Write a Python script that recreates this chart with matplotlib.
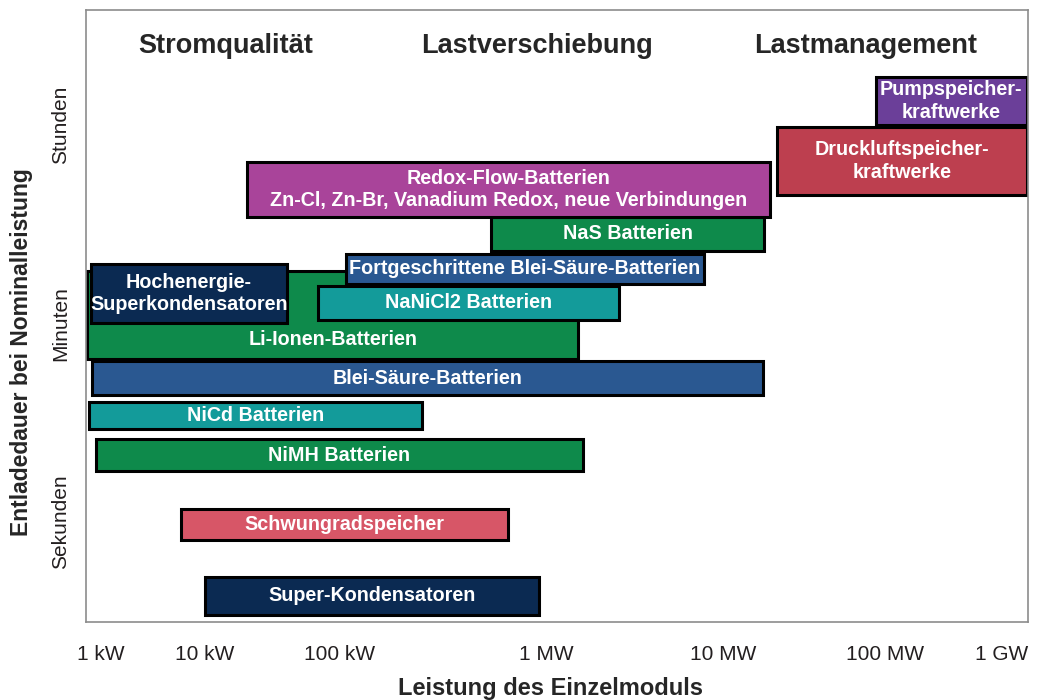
import numpy as np
import matplotlib
matplotlib.use('Agg')
import matplotlib.pyplot as plt

plt.rcParams['font.family'] = ['Liberation Sans', 'DejaVu Sans']

# ---------------- data ----------------
technologies = [
    'Li-Ionen-Batterien',
    'Hochenergie-\nSuperkondensatoren',
    'NaNiCl2 Batterien',
    'Fortgeschrittene Blei-Säure-Batterien',
    'NaS Batterien',
    'Redox-Flow-Batterien\nZn-Cl, Zn-Br, Vanadium Redox, neue Verbindungen',
    'Druckluftspeicher-\nkraftwerke',
    'Pumpspeicher-\nkraftwerke',
    'Blei-Säure-Batterien',
    'NiCd Batterien',
    'NiMH Batterien',
    'Schwungradspeicher',
    'Super-Kondensatoren',
]
power_min_kw = [0.75, 0.81, 68.7, 107, 541, 20.5, 21550, 87900, 0.83, 0.78, 0.905, 5.9, 10]
power_max_kw = [1516, 40.5, 2580, 7820, 17900, 19500, 1.62e6, 1.62e6, 17660, 250, 1620, 655, 925]
duration_min_s = [288, 605, 643, 1350, 2670, 5380, 8470, 35800, 137, 68, 28.6, 6.9, 1.47]
duration_max_s = [1770, 2040, 1300, 2510, 5380, 16700, 34400, 96400, 276, 119, 55, 13.1, 3.22]
bar_colors = ['#0E8A4B', '#0B2A52', '#139B9A', '#2A5891', '#0E8A4B', '#A9449A',
              '#BD3F4F', '#6B3F99', '#2A5891', '#139B9A', '#0E8A4B', '#D75667', '#0B2A52']

x_ticks_kw = [1, 10, 100, 1000, 1e4, 1e5, 1e6]
x_tick_labels = ['1 kW', '10 kW', '100 kW', '1 MW', '10 MW', '100 MW', '1 GW']
y_ticks_s = [10, 600, 36000]
y_tick_labels = ['Sekunden', 'Minuten', 'Stunden']
headers = ['Stromqualität', 'Lastverschiebung', 'Lastmanagement']

# ---------------- x scale (uneven decade widths as in the original) ----------------
dec_L = np.array([-1, 0, 1, 2, 3, 4, 5, 6, 7], dtype=float)
dec_P = np.array([-4, 100.5, 205, 340, 546, 723, 885, 1002, 1119], dtype=float)

def fwd(x):
    x = np.clip(np.asarray(x, dtype=float), 1e-12, None)
    L = np.log10(x)
    return np.interp(L, dec_L, dec_P) + \
        np.where(L < dec_L[0], (L - dec_L[0]) * 104.5, 0) + \
        np.where(L > dec_L[-1], (L - dec_L[-1]) * 117, 0)

def inv(p):
    p = np.asarray(p, dtype=float)
    L = np.interp(p, dec_P, dec_L) + \
        np.where(p < dec_P[0], (p - dec_P[0]) / 104.5, 0) + \
        np.where(p > dec_P[-1], (p - dec_P[-1]) / 117, 0)
    return 10 ** L

W, H = 1038, 700
fig = plt.figure(figsize=(W / 100, H / 100), dpi=100)
ax = fig.add_axes([86 / W, (H - 622) / H, (1028 - 86) / W, (622 - 10) / H])
ax.set_xscale('function', functions=(fwd, inv))
ax.set_yscale('log')
ax.set_xlim(0.7265, 1.668e6)
ax.set_ylim(1.27, 3.84e5)

idx_nanicl2 = technologies.index('NaNiCl2 Batterien')
for i, name in enumerate(technologies):
    x0, x1 = power_min_kw[i], power_max_kw[i]
    y0, y1 = duration_min_s[i], duration_max_s[i]
    ax.bar(x=x0, height=y1 - y0, width=x1 - x0, bottom=y0, align='edge',
           color=bar_colors[i], edgecolor='black', linewidth=2.2, zorder=2 + i * 0.01)
    xc = inv((fwd(x0) + fwd(x1)) / 2)
    if name.startswith('Li-Ionen'):
        yc = np.sqrt(y0 * duration_min_s[idx_nanicl2])
    else:
        yc = np.sqrt(y0 * y1)
    ax.text(xc, yc, name, ha='center', va='center', color='white',
            fontsize=14.2, fontweight='bold', linespacing=1.25, zorder=3 + i * 0.01)

ax.set_xticks(x_ticks_kw)
ax.set_xticklabels(x_tick_labels)
ax.set_yticks(y_ticks_s)
ax.set_yticklabels(y_tick_labels, rotation=90, va='center')
ax.xaxis.set_minor_locator(matplotlib.ticker.NullLocator())
ax.yaxis.set_minor_locator(matplotlib.ticker.NullLocator())
ax.tick_params(axis='x', length=0, pad=16.5, labelsize=15, labelcolor='#231f20')
ax.tick_params(axis='y', length=0, pad=11.5, labelsize=15, labelcolor='#231f20')

for s in ax.spines.values():
    s.set_color('#8c8c8c')
    s.set_linewidth(1.2)

header_x = [(226 - 86) / 942, (537 - 86) / 942, (866 - 86) / 942]
for hx, txt in zip(header_x, headers):
    ax.text(hx, (622 - 46) / 612, txt, transform=ax.transAxes, ha='center', va='center',
            fontsize=19.5, fontweight='bold', color='#262626')

fig.text(550 / W, 1 - 688 / H, 'Leistung des Einzelmoduls', ha='center', va='center',
         fontsize=17, fontweight='bold', color='#262626')
fig.text(22 / W, 1 - 352 / H, 'Entladedauer bei Nominalleistung', ha='center', va='center',
         rotation=90, fontsize=16.5, fontweight='bold', color='#262626')

fig.savefig('out.png', dpi=100)
